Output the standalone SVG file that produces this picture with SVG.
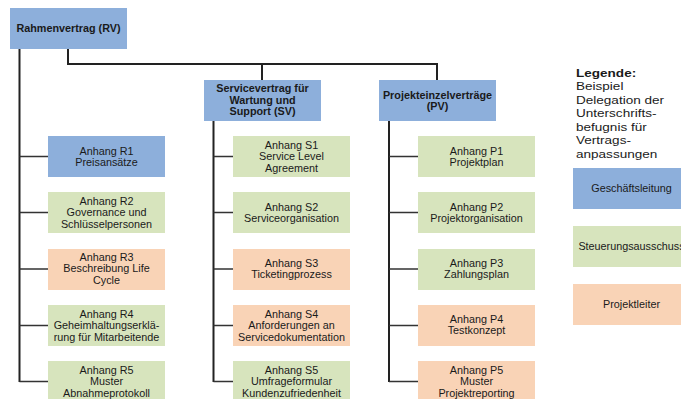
<svg xmlns="http://www.w3.org/2000/svg" width="681" height="399" viewBox="0 0 681 399">
<style>
.bl{fill:#8DAFDB}.gr{fill:#D7E4BD}.pe{fill:#F9D3B6}
text{font-family:"Liberation Sans",Arial,sans-serif;fill:#1a1a1a;font-size:10.8px;text-anchor:middle}
.h{font-weight:bold}
.lg{text-anchor:start;font-size:10.5px}
.c{fill:none;stroke:#222;stroke-width:2}
.b{fill:none;stroke:#333;stroke-width:1.7}
</style>
<rect width="681" height="399" fill="#fff"/>
<g id="connectors">
<path class="c" d="M19.5 49V382M68 49V64H437V80M262 64V80M213.5 121V382M389 121V382"/>
<path class="b" d="M19.5 156.5H48M19.5 212.5H48M19.5 269H48M19.5 325.5H48M19.5 381.5H48M213.5 156.5H233M213.5 212.5H233M213.5 269H233M213.5 325.5H233M213.5 381.5H233M389 156.5H418M389 212.5H418M389 269H418M389 325.5H418M389 381.5H418"/>
</g>
<g id="RV"><rect class="bl" x="10" y="8" width="117" height="41"/><text class="h" x="68.5" y="32">Rahmenvertrag (RV)</text></g>
<g id="SV"><rect class="bl" x="204" y="80" width="117" height="41"/><text class="h" x="262.5" y="92">Servicevertrag für</text><text class="h" x="262.5" y="103.7">Wartung und</text><text class="h" x="262.5" y="115.4">Support (SV)</text></g>
<g id="PV"><rect class="bl" x="379" y="80" width="117" height="41"/><text class="h" x="437.5" y="98.7">Projekteinzelverträge</text><text class="h" x="437.5" y="110.4">(PV)</text></g>

<g id="R1"><rect class="bl" x="48" y="136" width="117" height="41"/><text x="106.5" y="154.7">Anhang R1</text><text x="106.5" y="165.9">Preisansätze</text></g>
<g id="R2"><rect class="gr" x="48" y="192" width="117" height="41"/><text x="106.5" y="205.2">Anhang R2</text><text x="106.5" y="216.4">Governance und</text><text x="106.5" y="227.6">Schlüsselpersonen</text></g>
<g id="R3"><rect class="pe" x="48" y="249" width="117" height="41"/><text x="106.5" y="261.2">Anhang R3</text><text x="106.5" y="272.4">Beschreibung Life</text><text x="106.5" y="283.6">Cycle</text></g>
<g id="R4"><rect class="gr" x="48" y="305" width="117" height="41"/><text x="106.5" y="318.2">Anhang R4</text><text x="106.5" y="329.4">Geheimhaltungserklä-</text><text x="106.5" y="340.6">rung für Mitarbeitende</text></g>
<g id="R5"><rect class="gr" x="48" y="361" width="117" height="41"/><text x="106.5" y="374.2">Anhang R5</text><text x="106.5" y="385.4">Muster</text><text x="106.5" y="396.6">Abnahmeprotokoll</text></g>

<g id="S1"><rect class="gr" x="233" y="136" width="117" height="41"/><text x="291.5" y="149.2">Anhang S1</text><text x="291.5" y="160.4">Service Level</text><text x="291.5" y="171.6">Agreement</text></g>
<g id="S2"><rect class="gr" x="233" y="192" width="117" height="41"/><text x="291.5" y="210.7">Anhang S2</text><text x="291.5" y="221.9">Serviceorganisation</text></g>
<g id="S3"><rect class="pe" x="233" y="249" width="117" height="41"/><text x="291.5" y="266.8">Anhang S3</text><text x="291.5" y="278">Ticketingprozess</text></g>
<g id="S4"><rect class="pe" x="233" y="305" width="117" height="41"/><text x="291.5" y="318.2">Anhang S4</text><text x="291.5" y="329.4">Anforderungen an</text><text x="291.5" y="340.6">Servicedokumentation</text></g>
<g id="S5"><rect class="gr" x="233" y="361" width="117" height="41"/><text x="291.5" y="374.2">Anhang S5</text><text x="291.5" y="385.4">Umfrageformular</text><text x="291.5" y="396.6">Kundenzufriedenheit</text></g>

<g id="P1"><rect class="gr" x="418" y="136" width="117" height="41"/><text x="476.5" y="154.7">Anhang P1</text><text x="476.5" y="165.9">Projektplan</text></g>
<g id="P2"><rect class="gr" x="418" y="192" width="117" height="41"/><text x="476.5" y="210.7">Anhang P2</text><text x="476.5" y="221.9">Projektorganisation</text></g>
<g id="P3"><rect class="gr" x="418" y="249" width="117" height="41"/><text x="476.5" y="266.8">Anhang P3</text><text x="476.5" y="278">Zahlungsplan</text></g>
<g id="P4"><rect class="pe" x="418" y="305" width="117" height="41"/><text x="476.5" y="323.2">Anhang P4</text><text x="476.5" y="334.4">Testkonzept</text></g>
<g id="P5"><rect class="pe" x="418" y="361" width="117" height="41"/><text x="476.5" y="374.2">Anhang P5</text><text x="476.5" y="385.4">Muster</text><text x="476.5" y="396.6">Projektreporting</text></g>

<g id="legend">
<g transform="translate(576,0) scale(1.29,1)">
<text class="lg h" x="0" y="77">Legende:</text>
<text class="lg" x="0" y="90.5">Beispiel</text>
<text class="lg" x="0" y="104">Delegation der</text>
<text class="lg" x="0" y="117.5">Unterschrifts-</text>
<text class="lg" x="0" y="131">befugnis für</text>
<text class="lg" x="0" y="144.5">Vertrags-</text>
<text class="lg" x="0" y="158">anpassungen</text>
</g>
<g id="L1"><rect class="bl" x="573" y="168" width="117" height="41"/><text x="631.5" y="192.2">Geschäftsleitung</text></g>
<g id="L2"><rect class="gr" x="573" y="226" width="117" height="41"/><text x="631.5" y="250.2">Steuerungsausschuss</text></g>
<g id="L3"><rect class="pe" x="573" y="284" width="117" height="41"/><text x="631.5" y="308.2">Projektleiter</text></g>
</g>
</svg>
